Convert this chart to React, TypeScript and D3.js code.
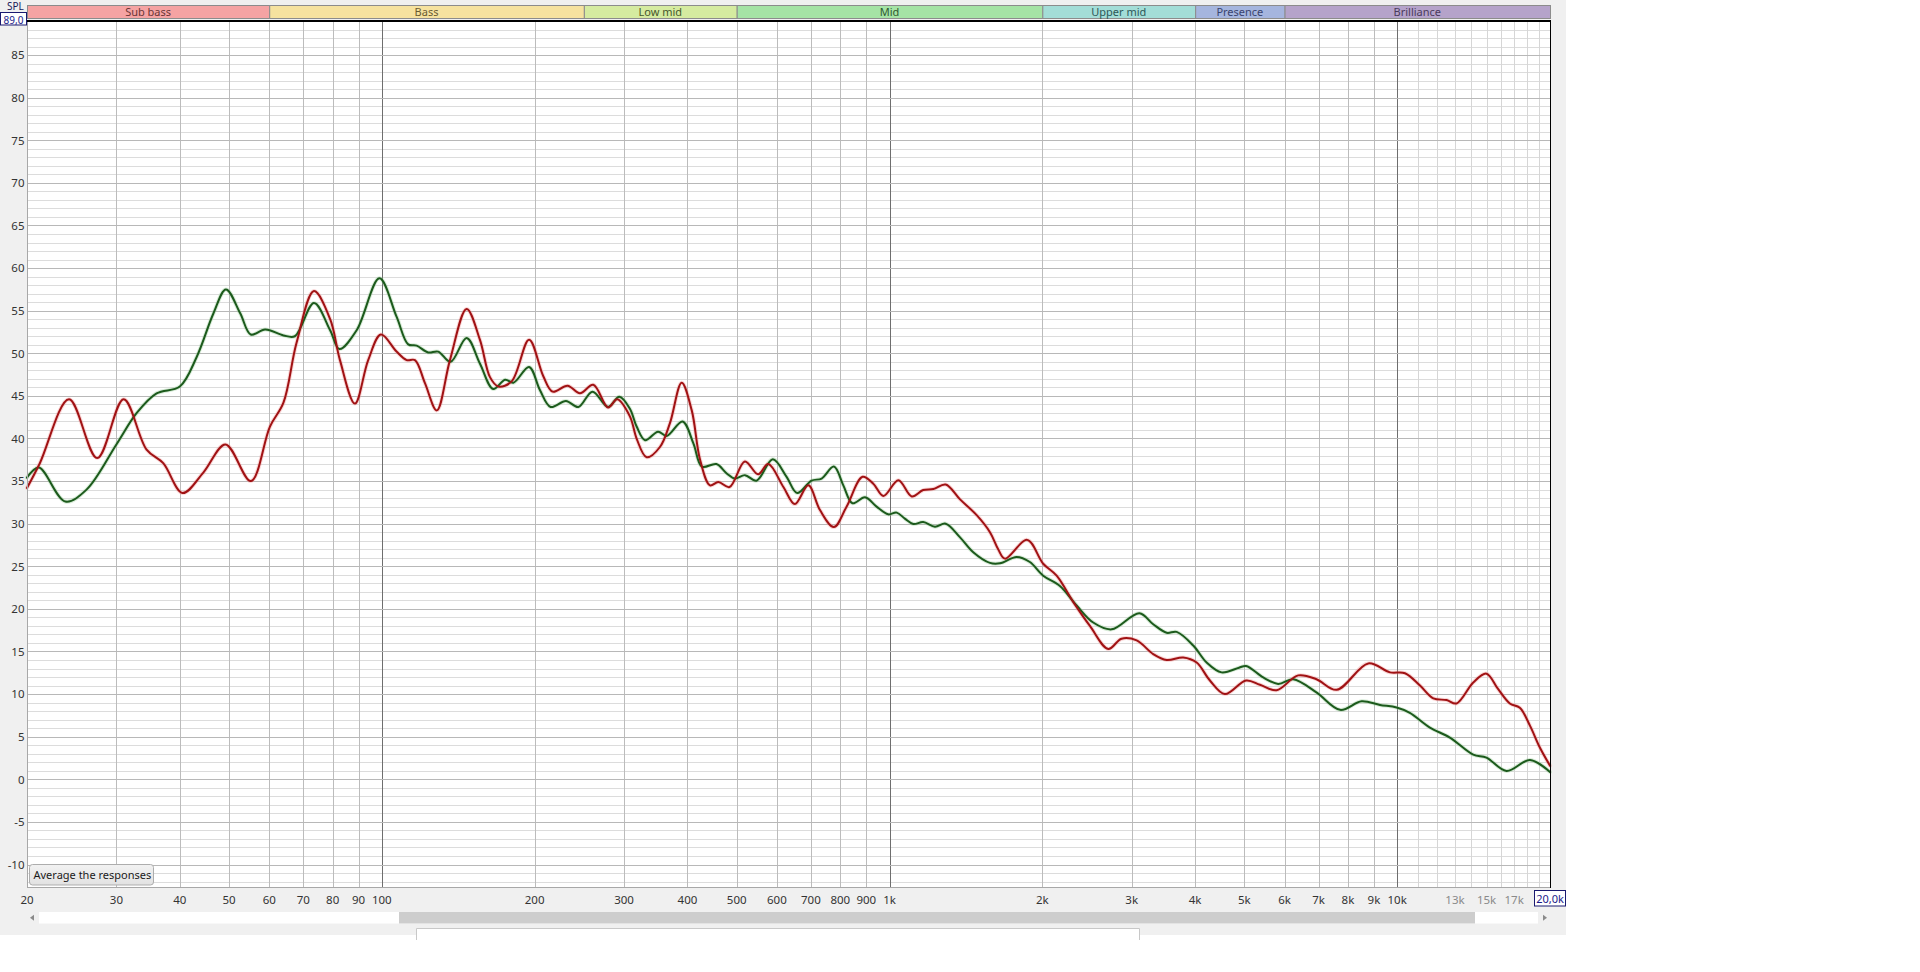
import React from "react";
import * as d3 from "d3";

// ---------- data ----------
const greenFreq = [20, 21.1, 23.8, 26.2, 30, 32.9, 36, 40, 43.2, 46.6, 49.3, 52.6, 55.2, 58.9, 64, 67.4, 73.5, 79.1, 82.5, 89.2, 98.9, 106.9, 112.7, 117.1, 123.4, 129.1, 136.6, 146.9, 156, 165.7, 174.9, 181.6, 195, 204.8, 215, 230.5, 243.8, 260, 279, 293.6, 308, 317.6, 330, 350, 364, 391, 411, 427, 456, 478, 496, 519, 547, 589, 627, 658, 702, 735, 777, 811, 845, 895, 943, 994, 1033, 1072, 1114, 1165, 1229, 1290, 1377, 1462, 1577, 1650, 1780, 1890, 2008, 2166, 2337, 2519, 2739, 3106, 3307, 3515, 3678, 3966, 4214, 4509, 4880, 5040, 5446, 5828, 6240, 6934, 7721, 8509, 9250, 9974, 10590, 11600, 12700, 14120, 14990, 16420, 18260, 20000];
const greenDb = [35.4, 36.6, 32.6, 34.0, 39.3, 43.0, 45.3, 46.1, 49.6, 54.7, 57.5, 54.7, 52.2, 52.8, 52.1, 52.0, 55.9, 52.7, 50.5, 52.7, 58.8, 54.3, 51.05, 50.9, 50.1, 50.2, 49.0, 51.8, 48.8, 45.8, 46.9, 46.55, 48.4, 45.7, 43.7, 44.4, 43.7, 45.5, 43.7, 44.9, 43.5, 41.4, 39.8, 40.8, 40.3, 42.0, 39.4, 36.7, 37.0, 35.9, 35.3, 35.7, 35.05, 37.55, 35.5, 33.6, 35.05, 35.3, 36.7, 34.5, 32.4, 33.1, 32.0, 31.1, 31.3, 30.6, 29.96, 30.2, 29.65, 30.0, 28.4, 26.65, 25.4, 25.35, 26.1, 25.5, 23.9, 22.7, 20.4, 18.4, 17.6, 19.5, 18.2, 17.2, 17.3, 15.7, 13.7, 12.55, 13.1, 13.3, 11.95, 11.2, 11.75, 10.2, 8.15, 9.16, 8.73, 8.42, 7.8, 6.07, 4.9, 2.9, 2.55, 0.98, 2.27, 0.86];

const redFreq = [20, 21.2, 24.2, 27.5, 31, 34.4, 37.1, 40.5, 44.5, 49.2, 55.2, 60.2, 64, 67.9, 73.5, 79.1, 82.7, 88.5, 94, 99.6, 106.9, 111.9, 116.2, 121.6, 128.3, 136.2, 146.9, 156, 163.3, 169.6, 180.2, 195, 208, 217, 232.2, 245.6, 260.9, 279, 290.9, 308, 318, 332.4, 353, 369.4, 389.6, 407.8, 423.5, 443, 460, 484, 519, 551, 577, 618, 651, 692, 729.5, 777, 823, 885, 929, 973, 1041, 1106, 1165, 1220, 1290, 1377, 1485, 1577, 1637, 1688, 1867, 2008, 2134, 2302, 2482, 2697, 2864, 3068, 3307, 3515, 3790, 4027, 4277, 4577, 5040, 5367, 5786, 6384, 6934, 7600, 8770, 9678, 10360, 11090, 11780, 12510, 13090, 14120, 14990, 15800, 16670, 17440, 18260, 19110, 20000];
const redDb = [34.2, 37.1, 44.6, 37.7, 44.6, 38.7, 37.1, 33.6, 36.0, 39.3, 35.0, 41.4, 44.2, 51.2, 57.3, 54.0, 49.2, 44.1, 49.2, 52.2, 50.2, 49.2, 49.2, 46.5, 43.3, 49.2, 55.2, 51.6, 47.2, 46.1, 46.7, 51.6, 47.3, 45.5, 46.2, 45.3, 46.3, 43.65, 44.6, 42.6, 39.9, 37.8, 39.0, 41.8, 46.55, 43.3, 37.5, 34.5, 34.9, 34.3, 37.3, 35.8, 37.0, 34.3, 32.3, 34.5, 31.6, 29.6, 32.0, 35.5, 34.7, 33.25, 35.1, 33.2, 33.95, 34.07, 34.6, 32.85, 31.0, 29.0, 27.0, 25.9, 28.1, 25.3, 23.9, 20.8, 18.0, 15.3, 16.5, 16.3, 14.7, 14.0, 14.3, 13.7, 11.6, 10.0, 11.6, 11.1, 10.45, 12.2, 11.75, 10.5, 13.6, 12.55, 12.45, 11.0, 9.5, 9.3, 8.9, 11.36, 12.4, 10.6, 8.9, 8.4, 6.3, 3.7, 1.6];

const bandNames = ["Sub bass", "Bass", "Low mid", "Mid", "Upper mid", "Presence", "Brilliance"];
const bandEdges = [20, 60, 250, 500, 2000, 4000, 6000, 20000];
const bandFills = ["#f5a3a3", "#f6e29f", "#d5eba0", "#a5e3a5", "#a3ddd7", "#a5b5de", "#b5a3ca"];
const bandTextColors = ["#6a3535", "#6a5a30", "#46582c", "#2f5a2f", "#2d5858", "#39436e", "#4a3a5c"];

const xTickValues = [20, 30, 40, 50, 60, 70, 80, 90, 100, 200, 300, 400, 500, 600, 700, 800, 900, 1000, 2000, 3000, 4000, 5000, 6000, 7000, 8000, 9000, 10000, 13000, 15000, 17000];
const xTickLabels = ["20", "30", "40", "50", "60", "70", "80", "90", "100", "200", "300", "400", "500", "600", "700", "800", "900", "1k", "2k", "3k", "4k", "5k", "6k", "7k", "8k", "9k", "10k", "13k", "15k", "17k"];
const xTickFaint = ["13k", "15k", "17k"];
const xGridValues = [30, 40, 50, 60, 70, 80, 90, 100, 200, 300, 400, 500, 600, 700, 800, 900, 1000, 2000, 3000, 4000, 5000, 6000, 7000, 8000, 9000, 10000, 11000, 12000, 13000, 14000, 15000, 16000, 17000, 18000, 19000];
const xGridDark = [100, 1000, 10000];
const yTickValues = [85, 80, 75, 70, 65, 60, 55, 50, 45, 40, 35, 30, 25, 20, 15, 10, 5, 0, -5, -10];

const FONT = "'Noto Sans', 'Open Sans', sans-serif";

export default function App() {
  const x = d3.scaleLog().domain([20, 20000]).range([27, 1550]);
  const y = d3.scaleLinear().domain([-12.64, 89]).range([887, 21]);
  const x0 = x.range()[0], x1 = x.range()[1];
  const yTop = y.range()[1], yBot = y.range()[0];

  const line = d3
    .line<[number, number]>()
    .x((d) => x(d[0]))
    .y((d) => y(d[1]))
    .curve(d3.curveCatmullRom.alpha(0.5));

  const greenPts: [number, number][] = greenFreq.map((f, i) => [f, greenDb[i]]);
  const redPts: [number, number][] = redFreq.map((f, i) => [f, redDb[i]]);

  const minorY = d3.range(-12, 89, 1).filter((v) => v % 5 !== 0);
  const majorY = d3.range(-10, 89, 5);
  const px = (v: number) => Math.round(v) + 0.5;

  return (
    <div style={{ position: "absolute", left: 0, top: 0, width: 1920, height: 972, background: "#fff" }}>
      <svg width={1920} height={972} style={{ display: "block" }} fontFamily={FONT}>
        {/* panel */}
        <rect x={0} y={0} width={1566} height={935} fill="#f0f0f0" />
        {/* plot area */}
        <rect x={x0} y={yTop} width={x1 - x0} height={yBot - yTop} fill="#ffffff" />
        {/* minor horizontal grid */}
        {minorY.map((v) => (
          <line key={"mh" + v} x1={x0} x2={x1} y1={px(y(v))} y2={px(y(v))} stroke="#dcdcdc" strokeWidth={1} />
        ))}
        {/* vertical grid */}
        {xGridValues.map((f) => (
          <line
            key={"vg" + f}
            x1={px(x(f))}
            x2={px(x(f))}
            y1={yTop}
            y2={yBot}
            stroke={xGridDark.includes(f) ? "#6e6e6e" : f > 10000 ? "#d6d6d6" : "#bcbcbc"}
            strokeWidth={1}
          />
        ))}
        {/* major horizontal grid */}
        {majorY.map((v) => (
          <line key={"Mh" + v} x1={x0} x2={x1} y1={px(y(v))} y2={px(y(v))} stroke="#b8b8b8" strokeWidth={1} />
        ))}

        {/* curves */}
        <g fill="none" strokeLinejoin="round" strokeLinecap="round">
          <path d={line(greenPts) || ""} stroke="#8fc88f" strokeOpacity={0.35} strokeWidth={4} />
          <path d={line(redPts) || ""} stroke="#f08c8c" strokeOpacity={0.35} strokeWidth={4} />
          <path d={line(greenPts) || ""} stroke="#1c5a1c" strokeWidth={2} />
          <path d={line(redPts) || ""} stroke="#a01214" strokeWidth={2} />
        </g>

        {/* plot borders */}
        <line x1={x0 + 0.5} x2={x0 + 0.5} y1={yTop} y2={yBot} stroke="#a8a8a8" />
        <line x1={x0} x2={x1} y1={yBot + 0.5} y2={yBot + 0.5} stroke="#a8a8a8" />
        <line x1={x1 + 0.5} x2={x1 + 0.5} y1={yTop} y2={yBot + 1} stroke="#000" />
        <line x1={x0} x2={x1 + 1} y1={yTop} y2={yTop} stroke="#000" strokeWidth={2} />

        {/* band bar */}
        {bandNames.map((name, i) => {
          const a = x(bandEdges[i]);
          const b = x(bandEdges[i + 1]);
          return (
            <g key={name}>
              <rect x={a + 0.5} y={5.5} width={b - a} height={13} fill={bandFills[i]} stroke="#8c8c8c" strokeWidth={1} />
              <text x={(a + b) / 2} y={16} textAnchor="middle" fontSize={11} fill={bandTextColors[i]}>
                {name}
              </text>
            </g>
          );
        })}

        {/* y tick labels */}
        {yTickValues.map((v) => (
          <text key={"yt" + v} x={24.5} y={y(v) + 4.3} textAnchor="end" fontSize={11.5} fill="#333">
            {v}
          </text>
        ))}
        {/* SPL label and top value box */}
        <text x={7} y={9.5} fontSize={10} fill="#1a1a5a">SPL</text>
        <rect x={0.5} y={12.5} width={26} height={12.5} fill="#fff" stroke="#1a1a70" />
        <text x={13.5} y={23.5} textAnchor="middle" fontSize={10} fill="#1a1a8a">89,0</text>

        {/* x tick labels */}
        {xTickValues.map((f, i) => (
          <text
            key={"xt" + f}
            x={x(f)}
            y={904}
            textAnchor="middle"
            fontSize={11.5}
            fill={xTickFaint.includes(xTickLabels[i]) ? "#8a8a8a" : "#333"}
          >
            {xTickLabels[i]}
          </text>
        ))}
        <rect x={1534.5} y={890.5} width={31} height={15.5} fill="#fff" stroke="#1a1a70" />
        <text x={1550} y={903} textAnchor="middle" fontSize={11} fill="#1a1a8a">20,0k</text>

        {/* button */}
        <defs>
          <linearGradient id="btnGrad" x1="0" x2="0" y1="0" y2="1">
            <stop offset="0" stopColor="#f2f2f2" />
            <stop offset="1" stopColor="#e2e2e2" />
          </linearGradient>
        </defs>
        <rect x={29.5} y={864.5} width={124} height={20.5} rx={3} fill="url(#btnGrad)" stroke="#adadad" />
        <text x={33.5} y={879} fontSize={11} fill="#1a1a1a">Average the responses</text>

        {/* scrollbar */}
        <rect x={39} y={912} width={1499} height={11.5} fill="#ffffff" />
        <rect x={399} y={912} width={1076} height={11.5} fill="#cdcdcd" />
        <path d="M30,917.7 L34,914.7 L34,920.7 Z" fill="#8a8a8a" />
        <path d="M1547,917.7 L1543,914.7 L1543,920.7 Z" fill="#8a8a8a" />

        {/* partial bottom box */}
        <path d="M416.5,940 L416.5,928.5 L1139.5,928.5 L1139.5,940" fill="#fff" stroke="#c8c8c8" />
      </svg>
    </div>
  );
}
